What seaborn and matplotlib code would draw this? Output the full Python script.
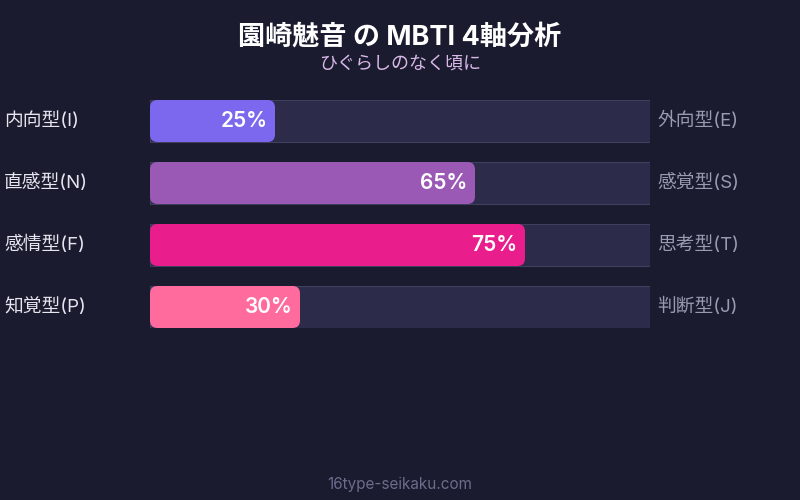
"""MBTI 4-axis chart for 園崎魅音."""
import matplotlib

matplotlib.use("Agg")

import matplotlib.pyplot as plt  # noqa: E402
import pandas as pd  # noqa: E402
import seaborn as sns  # noqa: E402
from matplotlib.patches import FancyBboxPatch  # noqa: E402

left_labels = ["内向型(I)", "直感型(N)", "感情型(F)", "知覚型(P)"]
right_labels = ["外向型(E)", "感覚型(S)", "思考型(T)", "判断型(J)"]
scores = [25, 65, 75, 30]
bar_colors = ["#7b68ee", "#9b59b6", "#e91e8c", "#ff6b9d"]
title = "園崎魅音 の MBTI 4軸分析"
subtitle = "ひぐらしのなく頃に"
footer = "16type-seikaku.com"

BG = "#1a1b2e"
TRACK = "#2d2b4a"
TRACK_EDGE = "#403f60"

sns.set_theme(style="white")
plt.rcParams["font.family"] = ["Inter", "Noto Sans CJK JP", "DejaVu Sans"]

df = pd.DataFrame({"axis": left_labels, "score": scores, "full": [100] * len(scores)})

fig = plt.figure(figsize=(8, 5), dpi=100, facecolor=BG)
# track spans x 150..650 px, y 100..328 px
ax = fig.add_axes([150 / 800, 172 / 500, 500 / 800, 228 / 500])
ax.set_facecolor(BG)

bar_h = 42 / 62
sns.barplot(data=df, y="axis", x="full", color=TRACK, width=bar_h, ax=ax,
            edgecolor=TRACK_EDGE, linewidth=0.8, saturation=1)
n_track = len(ax.patches)
sns.barplot(data=df, y="axis", x="score", hue="axis", palette=bar_colors,
            width=bar_h, ax=ax, legend=False, saturation=1, linewidth=0)

ax.set_xlim(0, 100)
ax.set_ylim(3 + 21 / 62, -21 / 62)

# swap value bars for rounded boxes
aspect = (1 / 62) / (1 / 5)
for p in list(ax.patches[n_track:]):
    x0, y0, w, h = p.get_x(), p.get_y(), p.get_width(), p.get_height()
    color = p.get_facecolor()
    p.remove()
    ax.add_patch(FancyBboxPatch((x0, y0), w, h,
                                boxstyle="round,pad=0,rounding_size=1.5",
                                mutation_aspect=aspect, facecolor=color,
                                edgecolor="none", zorder=3))

for i, (lab_l, lab_r, v) in enumerate(zip(left_labels, right_labels, scores)):
    ax.text(v - 1.5, i, f"{v}%", ha="right", va="center", color="white",
            fontsize=15, fontweight="semibold", zorder=4)
    ax.text(-29.2, i, lab_l, ha="left", va="center", color="#e6e6f0", fontsize=13.5)
    ax.text(101.4, i, lab_r, ha="left", va="center", color="#9a9ab0", fontsize=13.5)

ax.set_xlabel("")
ax.set_ylabel("")
ax.set_xticks([])
ax.set_yticks([])
sns.despine(ax=ax, left=True, bottom=True)

fig.text(0.5, 1 - 37 / 500, title, ha="center", va="center", color="white",
         fontsize=19.5, fontweight="bold")
fig.text(0.5, 1 - 64 / 500, subtitle, ha="center", va="center", color="#d8b8e8",
         fontsize=13)
fig.text(0.5, 1 - 485 / 500, footer, ha="center", va="center", color="#6c6c8c",
         fontsize=11)

fig.savefig("out.png", dpi=100, facecolor=BG)
